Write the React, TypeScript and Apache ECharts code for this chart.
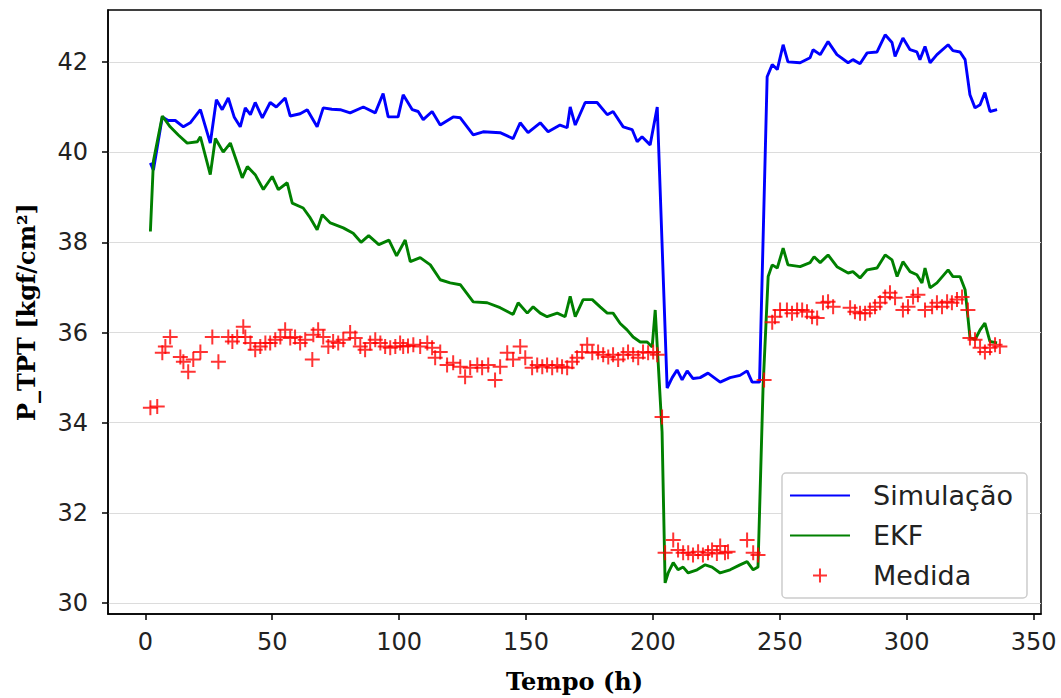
import React, { useEffect, useRef } from "react";
import * as echarts from "echarts";

const simX = [2, 3.2, 6.7, 9, 11.8, 15, 17.7, 21.7, 25.6, 28, 30.3, 32.7, 35, 37.4, 39.4, 41.4, 43.3, 46.1, 49.2, 51.6, 55.1, 57.1, 61, 63.8, 67.7, 70.1, 73.5, 76.8, 80.7, 85.9, 90.6, 93.7, 95.7, 99.6, 101.6, 105.2, 107.5, 109.5, 113, 116.2, 121.3, 124.1, 129.2, 133.1, 139.8, 144.9, 147.7, 150.8, 155.6, 158.7, 163.4, 166.2, 167.4, 169.4, 173.3, 178, 182, 184.3, 188.3, 191.8, 193.8, 195.7, 198.9, 201.7, 205.6, 207.6, 209.5, 211.5, 213.5, 215.8, 218.6, 221.7, 226.5, 230.4, 234.3, 237.1, 239.1, 242, 245, 247, 249, 251.3, 253.2, 258, 261.9, 263.1, 265.9, 269, 272.5, 276.9, 278.8, 281.6, 284.4, 288.3, 291.5, 294.2, 295.4, 298.5, 301.3, 304, 305.2, 307.2, 309.2, 311.9, 316.3, 318.2, 321, 323, 324.9, 326.9, 328.9, 330.8, 332.8, 335.6];
const simY = [39.76, 39.6, 40.78, 40.7, 40.7, 40.56, 40.65, 40.94, 40.2, 41.16, 40.94, 41.2, 40.78, 40.56, 40.98, 40.83, 41.1, 40.76, 41.1, 41.0, 41.2, 40.8, 40.85, 40.94, 40.56, 40.98, 40.95, 40.94, 40.87, 41.0, 40.87, 41.3, 40.78, 40.78, 41.27, 40.94, 40.9, 40.72, 40.9, 40.6, 40.78, 40.76, 40.38, 40.45, 40.43, 40.3, 40.65, 40.43, 40.65, 40.45, 40.6, 40.54, 41.0, 40.6, 41.1, 41.1, 40.83, 40.9, 40.56, 40.5, 40.23, 40.34, 40.16, 41.0, 34.77, 35.0, 35.17, 34.95, 35.15, 34.98, 35.0, 35.1, 34.9, 35.0, 35.05, 35.15, 34.9, 34.9, 41.67, 41.94, 41.83, 42.38, 42.0, 41.98, 42.09, 42.27, 42.16, 42.45, 42.16, 41.98, 42.05, 41.96, 42.2, 42.22, 42.6, 42.43, 42.12, 42.53, 42.27, 42.22, 42.05, 42.34, 41.98, 42.16, 42.38, 42.25, 42.22, 42.05, 41.27, 40.98, 41.05, 41.32, 40.9, 40.94];

const ekfX = [2, 3.2, 6.7, 9.8, 13, 16.5, 20.5, 21.7, 25.6, 27.6, 30.7, 33.5, 38.2, 40.2, 43.3, 46.5, 50, 52.4, 55.9, 57.9, 62.2, 65, 67.7, 69.7, 72.9, 78, 81.9, 85, 88, 92, 96, 99, 102.4, 104.4, 108.3, 112.3, 116.2, 120.1, 124.1, 129.2, 134.7, 139.8, 144.9, 146.9, 150.5, 152.8, 155.6, 158.3, 162.3, 165.4, 167.4, 169.4, 172.5, 176.1, 179.2, 182, 184.3, 187.1, 189.8, 192.2, 195, 197.7, 199.7, 200.9, 202, 203.6, 204.8, 206, 208, 209.9, 211.9, 213.9, 217.4, 220.6, 223.3, 226.5, 230.4, 234.3, 237.1, 239.5, 241.4, 243.4, 245.4, 247, 249, 251.3, 253.2, 258, 261.9, 263.5, 265.9, 269, 272.5, 276.9, 278.8, 281.6, 284.4, 288.3, 291.5, 294.2, 296.2, 298.5, 301.3, 304, 306, 307.2, 309.2, 311.9, 316.3, 318.2, 321, 323, 324.9, 326.9, 328.9, 330.8, 332.8, 335.6];
const ekfY = [38.24, 39.8, 40.8, 40.56, 40.38, 40.2, 40.23, 40.34, 39.5, 40.3, 40.0, 40.2, 39.43, 39.68, 39.5, 39.17, 39.46, 39.17, 39.32, 38.87, 38.76, 38.54, 38.28, 38.61, 38.43, 38.32, 38.2, 38.0, 38.15, 37.95, 38.05, 37.7, 38.05, 37.57, 37.66, 37.5, 37.17, 37.1, 37.06, 36.68, 36.66, 36.55, 36.4, 36.66, 36.43, 36.57, 36.43, 36.35, 36.43, 36.35, 36.8, 36.35, 36.73, 36.73, 36.57, 36.43, 36.43, 36.2, 36.06, 35.9, 35.79, 35.79, 35.68, 36.5, 35.4, 33.8, 30.45, 30.67, 30.9, 30.74, 30.8, 30.67, 30.74, 30.85, 30.8, 30.67, 30.74, 30.85, 30.92, 30.74, 30.8, 34.8, 37.24, 37.5, 37.43, 37.87, 37.5, 37.46, 37.55, 37.68, 37.55, 37.72, 37.46, 37.32, 37.35, 37.21, 37.39, 37.43, 37.72, 37.61, 37.24, 37.57, 37.35, 37.28, 37.1, 37.43, 36.99, 37.1, 37.39, 37.24, 37.24, 36.95, 35.9, 35.84, 36.06, 36.21, 35.8, 35.77];

const medX = [2, 4.7, 6.7, 7.9, 9.8, 13.8, 15, 16.9, 18.9, 21.7, 26.4, 28.8, 32.7, 34.3, 36.2, 38.6, 39.4, 41.4, 43.3, 45.3, 47.3, 49.2, 51.2, 53.2, 55.1, 57.1, 59, 61, 63, 65.8, 66.2, 68.1, 70.1, 72.1, 74, 76, 78, 80.7, 82.7, 84.7, 86.6, 88.6, 90.6, 92.6, 94.5, 96.5, 98.5, 100.4, 101.6, 103.5, 105.6, 108.3, 111.1, 113, 114.2, 116.2, 118.9, 121.3, 124.1, 126, 128, 130.8, 132.7, 135.1, 137.8, 139.8, 142.6, 144.9, 147.7, 149.7, 152.4, 154.4, 156.4, 158.3, 160.3, 162.3, 164.2, 166.2, 168.2, 170.1, 172.1, 174.1, 176.1, 178.4, 180.4, 182.4, 184.3, 186.3, 188.3, 190.2, 192.2, 194.2, 196.1, 198.1, 200.1, 201.7, 203.6, 204.8, 208, 209.9, 211.9, 213.9, 215.8, 217.8, 219.7, 221.7, 223.3, 225.2, 226.5, 228.4, 229.6, 237.1, 239.5, 241.4, 243.8, 247, 248.1, 250.1, 252.8, 254.8, 256.8, 258.8, 260.7, 262.7, 264.7, 267, 269, 271, 277.7, 279.6, 281.6, 283.6, 285.5, 287.5, 289.5, 291.5, 293.4, 295.4, 298.5, 300.5, 302.5, 304.4, 307.2, 310, 311.9, 313.9, 315.9, 317.8, 319.8, 321.8, 324.1, 324.9, 326.9, 328.9, 330.8, 332.8, 334.8, 336.7];
const medY = [34.33, 34.36, 35.55, 35.69, 35.9, 35.46, 35.35, 35.13, 35.4, 35.57, 35.9, 35.35, 35.9, 35.8, 35.9, 36.13, 35.9, 35.77, 35.62, 35.69, 35.77, 35.77, 35.84, 35.9, 36.06, 35.88, 35.9, 35.77, 35.84, 35.4, 35.95, 36.06, 35.9, 35.69, 35.8, 35.77, 35.84, 36.0, 35.88, 35.69, 35.62, 35.77, 35.84, 35.77, 35.69, 35.66, 35.69, 35.77, 35.69, 35.7, 35.73, 35.69, 35.77, 35.66, 35.44, 35.57, 35.28, 35.33, 35.24, 35.02, 35.22, 35.28, 35.22, 35.28, 34.95, 35.24, 35.55, 35.4, 35.69, 35.44, 35.22, 35.28, 35.24, 35.28, 35.22, 35.28, 35.24, 35.22, 35.35, 35.44, 35.57, 35.73, 35.55, 35.57, 35.51, 35.46, 35.51, 35.4, 35.51, 35.57, 35.51, 35.44, 35.57, 35.55, 35.57, 35.51, 34.13, 31.12, 31.4, 31.18, 31.12, 31.12, 31.07, 31.14, 31.07, 31.12, 31.18, 31.1, 31.27, 31.12, 31.14, 31.4, 31.12, 31.07, 34.95, 36.23, 36.35, 36.5, 36.5, 36.43, 36.5, 36.5, 36.46, 36.35, 36.32, 36.66, 36.68, 36.57, 36.55, 36.46, 36.43, 36.43, 36.5, 36.57, 36.66, 36.79, 36.88, 36.77, 36.5, 36.57, 36.79, 36.84, 36.5, 36.57, 36.66, 36.57, 36.68, 36.66, 36.73, 36.79, 36.5, 35.88, 35.84, 35.66, 35.57, 35.66, 35.73, 35.69];

const xTicks = [0, 50, 100, 150, 200, 250, 300, 350];
const yTicks = [30, 32, 34, 36, 38, 40, 42];

const zip = (xs: number[], ys: number[]) => xs.map((x, i) => [x, ys[i]]);

export default function App() {
  const ref = useRef<HTMLDivElement>(null);
  useEffect(() => {
    if (!ref.current) return;
    const chart = echarts.init(ref.current, null, { renderer: "svg" });
    const sans = "DejaVu Sans";
    const serif = "DejaVu Serif";
    const hidden = { color: "rgba(0,0,0,0)", borderColor: "rgba(0,0,0,0)", borderWidth: 0 };
    chart.setOption({
      animation: false,
      backgroundColor: "#ffffff",
      grid: {
        left: 108,
        right: 20,
        top: 10,
        bottom: 84,
        show: true,
        borderColor: "#000",
        borderWidth: 1.5,
        backgroundColor: "transparent",
      },
      legend: {
        orient: "vertical",
        right: 34,
        bottom: 100,
        itemWidth: 60,
        itemHeight: 14,
        itemGap: 13,
        padding: [9, 14, 9, 7],
        backgroundColor: "#ffffff",
        borderColor: "#cccccc",
        borderWidth: 1.5,
        borderRadius: 4,
        textStyle: { fontFamily: sans, fontSize: 27, color: "#222", padding: [0, 0, 0, 18] },
        data: [
          { name: "Simulação", itemStyle: hidden },
          { name: "EKF", itemStyle: hidden },
          { name: "Medida" },
        ],
      },
      xAxis: {
        type: "value",
        min: -14.7,
        max: 352.9,
        name: "Tempo (h)",
        nameLocation: "middle",
        nameGap: 55,
        nameTextStyle: { fontFamily: serif, fontWeight: "bold", fontSize: 24, color: "#000" },
        axisLine: { show: true, onZero: false, lineStyle: { color: "#000", width: 1.5 } },
        axisTick: { show: true, length: 6, lineStyle: { color: "#000", width: 1.5 }, customValues: xTicks },
        axisLabel: { fontFamily: sans, fontSize: 24, color: "#222", margin: 16, customValues: xTicks },
        splitLine: { show: false },
      },
      yAxis: {
        type: "value",
        min: 29.76,
        max: 43.15,
        name: "P_TPT [kgf/cm²]",
        nameLocation: "middle",
        nameGap: 70,
        nameRotate: 90,
        nameTextStyle: { fontFamily: serif, fontWeight: "bold", fontSize: 24, color: "#000" },
        axisLine: { show: true, onZero: false, lineStyle: { color: "#000", width: 1.5 } },
        axisTick: { show: true, length: 6, lineStyle: { color: "#000", width: 1.5 }, customValues: yTicks },
        axisLabel: { fontFamily: sans, fontSize: 24, color: "#222", margin: 20, customValues: yTicks },
        splitLine: { show: true, lineStyle: { color: "#dcdcdc", width: 1.2 } },
      },
      series: [
        {
          name: "Simulação",
          type: "line",
          data: zip(simX, simY),
          showSymbol: false,
          symbol: "none",
          lineStyle: { color: "#0000ff", width: 2.9 },
          itemStyle: { color: "#0000ff" },
          z: 3,
        },
        {
          name: "EKF",
          type: "line",
          data: zip(ekfX, ekfY),
          showSymbol: false,
          symbol: "none",
          lineStyle: { color: "#008000", width: 2.9 },
          itemStyle: { color: "#008000" },
          z: 4,
        },
        {
          name: "Medida",
          type: "scatter",
          data: zip(medX, medY),
          symbol: "path://M0,6L12,6M6,0L6,12",
          symbolSize: 15,
          itemStyle: { color: "#ff0000", borderColor: "#ff0000", borderWidth: 2 },
          z: 5,
        },
      ],
    });
    return () => chart.dispose();
  }, []);
  return <div ref={ref} style={{ position: "fixed", left: 0, top: 0, width: 1061, height: 698 }} />;
}
